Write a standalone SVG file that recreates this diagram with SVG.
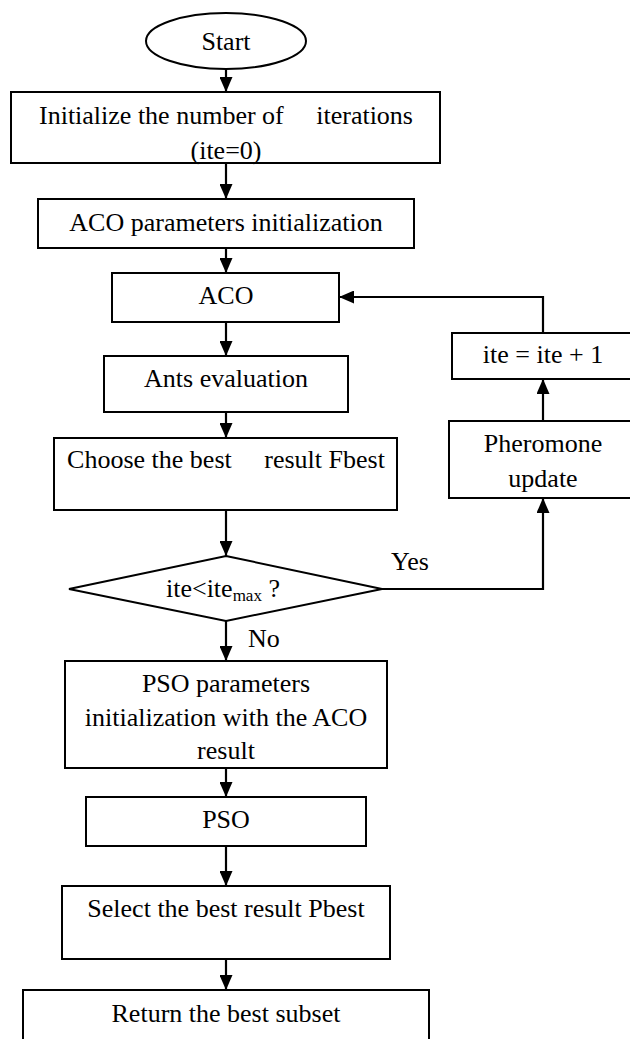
<svg xmlns="http://www.w3.org/2000/svg" width="630" height="1039" viewBox="0 0 630 1039">
<style>
  .box { fill: #fff; stroke: #000; stroke-width: 2; }
  .t { font-family: "Liberation Serif", "Times New Roman", serif; font-size: 26px; fill: #000; }
  .c { text-anchor: middle; }
  .ln { fill: none; stroke: #000; stroke-width: 2.2; }
</style>
<defs>
  <marker id="ah" markerWidth="15" markerHeight="13" refX="15" refY="6.5" orient="auto" markerUnits="userSpaceOnUse">
    <path d="M0,0 L15,6.5 L0,13 Z" fill="#000"/>
  </marker>
</defs>
<rect width="630" height="1039" fill="#fff"/>

<g id="connectors">
  <path class="ln" d="M226,69 L226,92" marker-end="url(#ah)"/>
  <path class="ln" d="M226,163 L226,199" marker-end="url(#ah)"/>
  <path class="ln" d="M226,248 L226,273" marker-end="url(#ah)"/>
  <path class="ln" d="M226,322 L226,356" marker-end="url(#ah)"/>
  <path class="ln" d="M226,412 L226,438" marker-end="url(#ah)"/>
  <path class="ln" d="M226,510 L226,556" marker-end="url(#ah)"/>
  <path class="ln" d="M382,589 L543,589 L543,498" marker-end="url(#ah)"/>
  <path class="ln" d="M543,421 L543,379" marker-end="url(#ah)"/>
  <path class="ln" d="M543,333 L543,297 L339,297" marker-end="url(#ah)"/>
  <path class="ln" d="M226,621 L226,661" marker-end="url(#ah)"/>
  <path class="ln" d="M226,768 L226,797" marker-end="url(#ah)"/>
  <path class="ln" d="M226,846 L226,886" marker-end="url(#ah)"/>
  <path class="ln" d="M226,959 L226,990" marker-end="url(#ah)"/>
  <text class="t" x="391" y="570">Yes</text>
  <text class="t" x="248" y="647">No</text>
</g>

<g id="start">
  <ellipse class="box" cx="226" cy="41" rx="80" ry="28"/>
  <text class="t c" x="226" y="50">Start</text>
</g>

<g id="init-iterations">
  <rect class="box" x="11" y="92" width="429" height="71"/>
  <text class="t c" x="226" y="124" xml:space="preserve">Initialize the number of     iterations</text>
  <text class="t c" x="226" y="159">(ite=0)</text>
</g>

<g id="aco-params">
  <rect class="box" x="38" y="199" width="376" height="49"/>
  <text class="t c" x="226" y="231">ACO parameters initialization</text>
</g>

<g id="aco">
  <rect class="box" x="112" y="273" width="227" height="49"/>
  <text class="t c" x="226" y="304">ACO</text>
</g>

<g id="ants-eval">
  <rect class="box" x="104" y="356" width="244" height="56"/>
  <text class="t c" x="226" y="387">Ants evaluation</text>
</g>

<g id="choose-best">
  <rect class="box" x="54" y="438" width="343" height="72"/>
  <text class="t c" x="226" y="468" xml:space="preserve">Choose the best     result Fbest</text>
</g>

<g id="decision">
  <polygon class="box" points="226,556 382,589 226,621 69,589"/>
  <text class="t" x="166" y="597">ite&lt;ite<tspan font-size="17" dy="4">max</tspan><tspan dy="-4"> ?</tspan></text>
</g>

<g id="ite-inc">
  <rect class="box" x="452" y="333" width="186" height="46"/>
  <text class="t c" x="543" y="363">ite = ite + 1</text>
</g>

<g id="pheromone">
  <rect class="box" x="449" y="421" width="189" height="77"/>
  <text class="t c" x="543" y="452">Pheromone</text>
  <text class="t c" x="543" y="487">update</text>
</g>

<g id="pso-params">
  <rect class="box" x="65" y="661" width="322" height="107"/>
  <text class="t c" x="226" y="692">PSO parameters</text>
  <text class="t c" x="226" y="726">initialization with the ACO</text>
  <text class="t c" x="226" y="759">result</text>
</g>

<g id="pso">
  <rect class="box" x="86" y="797" width="280" height="49"/>
  <text class="t c" x="226" y="828">PSO</text>
</g>

<g id="select-best">
  <rect class="box" x="62" y="886" width="328" height="73"/>
  <text class="t c" x="226" y="917">Select the best result Pbest</text>
</g>

<g id="return-best">
  <rect class="box" x="23" y="990" width="406" height="60"/>
  <text class="t c" x="226" y="1022">Return the best subset</text>
</g>
</svg>
